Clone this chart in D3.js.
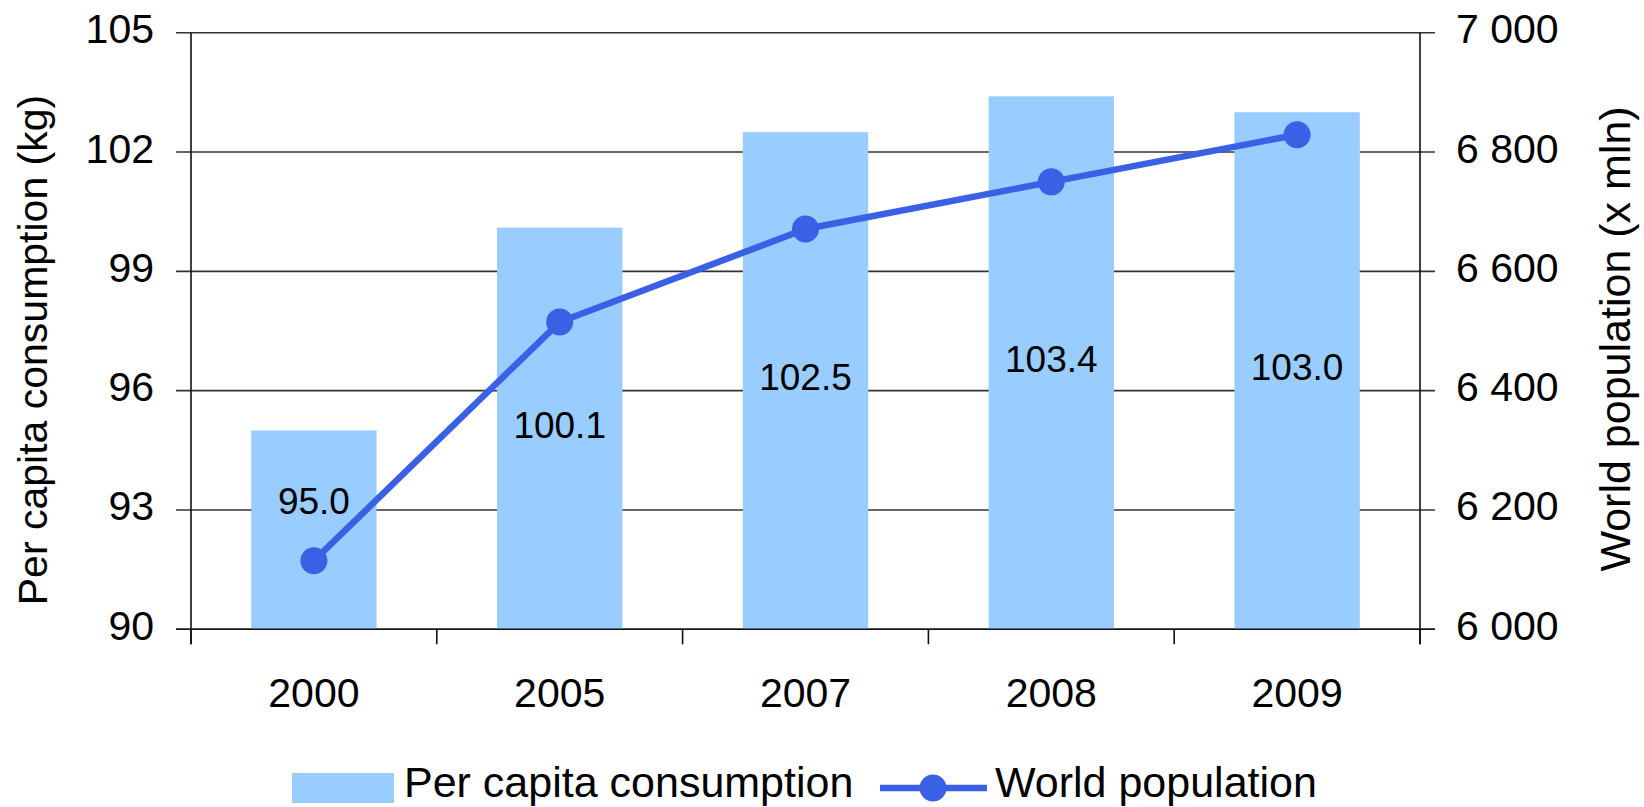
<!DOCTYPE html>
<html>
<head>
<meta charset="utf-8">
<script src="https://cdn.jsdelivr.net/npm/d3@7"></script>
<style>
  html, body { margin: 0; padding: 0; background: #fff; }
  svg { display: block; }
  text { font-family: "Liberation Sans", Arial, sans-serif; fill: #000; }
</style>
</head>
<body>
<svg id="chart" width="1644" height="807"></svg>
<script>
// Categories and series
const years = ["2000", "2005", "2007", "2008", "2009"];
const consumption = [95.0, 100.1, 102.5, 103.4, 103.0];   // kg per capita
const population = [6115, 6515, 6671, 6750, 6829];        // million people
const leftTicks = [90, 93, 96, 99, 102, 105];
const rightTicks = [6000, 6200, 6400, 6600, 6800, 7000];
const seriesNames = ["Per capita consumption", "World population"];
// Extra vertical nudge for value labels (keeps the first label clear of the line)
const labelNudge = [-25, 0, 0, 0, 0];

const BAR = "#99CCFF", LINE = "#3A60E6", GRID = "#333";

const svg = d3.select("#chart");
const plot = { left: 191, right: 1420, top: 32.7, bottom: 629.3 };
const tickLen = 15;

const x = d3.scaleBand().domain(years).range([plot.left, plot.right])
  .paddingInner(0.49).paddingOuter(0.245);
const yL = d3.scaleLinear().domain([90, 105]).range([plot.bottom, plot.top]);
const yR = d3.scaleLinear().domain([6000, 7000]).range([plot.bottom, plot.top]);
const step = x.step();
const fmtR = v => d3.format(",")(v).replace(",", " ");

// Horizontal gridlines spanning both axes' tick marks
svg.append("g").selectAll("line").data(leftTicks).join("line")
  .attr("x1", plot.left - tickLen).attr("x2", plot.right + tickLen)
  .attr("y1", d => yL(d)).attr("y2", d => yL(d))
  .attr("stroke", GRID).attr("stroke-width", 1.6);

// Bars
svg.append("g").selectAll("rect").data(years).join("rect")
  .attr("x", d => x(d)).attr("width", x.bandwidth())
  .attr("y", (d, i) => yL(consumption[i]))
  .attr("height", (d, i) => yL(90) - yL(consumption[i]))
  .attr("fill", BAR);

// Axis lines
const ax = svg.append("g").attr("stroke", "#111").attr("stroke-width", 1.6);
ax.append("line").attr("x1", plot.left).attr("x2", plot.left)
  .attr("y1", plot.top).attr("y2", plot.bottom + tickLen);
ax.append("line").attr("x1", plot.right).attr("x2", plot.right)
  .attr("y1", plot.top).attr("y2", plot.bottom + tickLen);
ax.append("line").attr("x1", plot.left - tickLen).attr("x2", plot.right + tickLen)
  .attr("y1", plot.bottom).attr("y2", plot.bottom);
// Category boundary ticks
ax.selectAll(".xt").data(d3.range(years.length + 1)).join("line")
  .attr("x1", i => plot.left + i * (plot.right - plot.left) / years.length)
  .attr("x2", i => plot.left + i * (plot.right - plot.left) / years.length)
  .attr("y1", plot.bottom).attr("y2", plot.bottom + tickLen);

// Left tick labels
svg.append("g").selectAll("text").data(leftTicks).join("text")
  .attr("x", 154).attr("y", d => yL(d) + 10.5)
  .attr("text-anchor", "end").attr("font-size", 41).text(d => d);
// Right tick labels
svg.append("g").selectAll("text").data(rightTicks).join("text")
  .attr("x", 1456).attr("y", d => yR(d) + 10.5)
  .attr("text-anchor", "start").attr("font-size", 41).text(d => fmtR(d));
// Category labels
svg.append("g").selectAll("text").data(years).join("text")
  .attr("x", d => x(d) + x.bandwidth() / 2).attr("y", 706.5)
  .attr("text-anchor", "middle").attr("font-size", 41).text(d => d);

// Axis titles
svg.append("text").attr("transform", "translate(47,350) rotate(-90)")
  .attr("text-anchor", "middle").attr("font-size", 41)
  .text("Per capita consumption (kg)");
svg.append("text").attr("transform", "translate(1630,339) rotate(-90)")
  .attr("text-anchor", "middle").attr("font-size", 43)
  .text("World population (x mln)");

// Population line
const line = d3.line().x((d, i) => x(years[i]) + x.bandwidth() / 2).y(d => yR(d));
svg.append("path").datum(population).attr("d", line)
  .attr("fill", "none").attr("stroke", LINE).attr("stroke-width", 6.5)
  .attr("stroke-linejoin", "round");
svg.append("g").selectAll("circle").data(population).join("circle")
  .attr("cx", (d, i) => x(years[i]) + x.bandwidth() / 2).attr("cy", d => yR(d))
  .attr("r", 13.5).attr("fill", LINE);

// Value labels, centred in each bar
svg.append("g").selectAll("text").data(consumption).join("text")
  .attr("x", (d, i) => x(years[i]) + x.bandwidth() / 2)
  .attr("y", (d, i) => (yL(d) + yL(90)) / 2 - 4 + labelNudge[i] + 13.3)
  .attr("text-anchor", "middle").attr("font-size", 37)
  .text(d => d3.format(".1f")(d));

// Legend
const lg = svg.append("g");
lg.append("rect").attr("x", 292).attr("y", 773).attr("width", 102).attr("height", 30).attr("fill", BAR);
lg.append("text").attr("x", 404).attr("y", 797).attr("font-size", 43).text(seriesNames[0]);
lg.append("line").attr("x1", 880).attr("x2", 987).attr("y1", 788).attr("y2", 788)
  .attr("stroke", LINE).attr("stroke-width", 6.5);
lg.append("circle").attr("cx", 933).attr("cy", 788).attr("r", 13.5).attr("fill", LINE);
lg.append("text").attr("x", 995).attr("y", 797).attr("font-size", 43).text(seriesNames[1]);
</script>
</body>
</html>
